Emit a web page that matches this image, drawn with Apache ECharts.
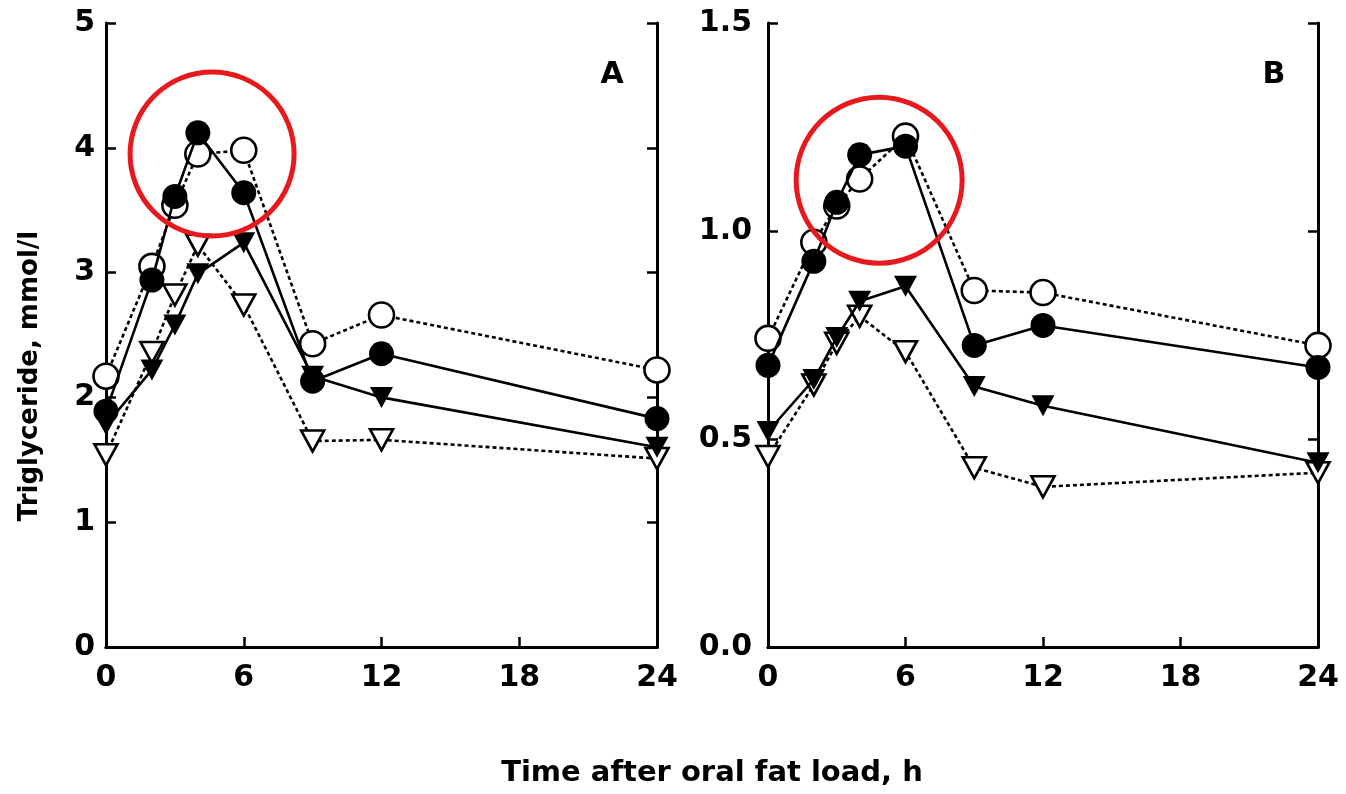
<!DOCTYPE html>
<html>
<head>
<meta charset="utf-8">
<script src="https://cdn.jsdelivr.net/npm/echarts@6/dist/echarts.min.js"></script>
<style>
html,body{margin:0;padding:0;background:#fff;}
#c{width:1346px;height:794px;}
</style>
</head>
<body>
<div id="c"></div>
<script>
// ---- data ----
var hours = [0, 2, 3, 4, 6, 9, 12, 24];
var xTicks = [0, 6, 12, 18, 24];
// Panel A (mmol/l)
var A_openCircle   = [2.17, 3.05, 3.54, 3.95, 3.98, 2.43, 2.66, 2.22];
var A_filledCircle = [1.89, 2.94, 3.61, 4.12, 3.64, 2.13, 2.35, 1.83];
var A_filledTri    = [1.78, 2.22, 2.58, 2.99, 3.24, 2.17, 2.00, 1.60];
var A_openTri      = [1.54, 2.36, 2.82, 3.22, 2.74, 1.65, 1.66, 1.51];
// Panel B
var B_openCircle   = [0.742, 0.973, 1.06, 1.125, 1.228, 0.857, 0.852, 0.725];
var B_filledCircle = [0.677, 0.927, 1.069, 1.183, 1.204, 0.725, 0.773, 0.672];
var B_filledTri    = [0.518, 0.643, 0.744, 0.831, 0.867, 0.626, 0.580, 0.443];
var B_openTri      = [0.458, 0.63, 0.73, 0.795, 0.71, 0.431, 0.385, 0.419];
var yTicksA = [0, 1, 2, 3, 4, 5];
var yTicksB = ['0.0', '0.5', '1.0', '1.5'];
// annotation circle centers (data coords)
var ringA = [4.62, 3.95];
var ringB = [4.85, 1.122];

function pairs(ys){ return hours.map(function(h,i){ return [h, ys[i]]; }); }

var FONT = 'DejaVu Sans';
var BLACK = '#000';

function mkX(gi, pos){
  var main = pos === 'bottom';
  return {
    type:'value', gridIndex:gi, position:pos, min:0, max:24, interval:6,
    axisLine:{show:true, lineStyle:{color:BLACK, width:3}},
    axisTick:{show:main, inside:true, length:10, lineStyle:{color:BLACK, width:2.5}},
    axisLabel:{show:main, color:BLACK, fontFamily:FONT, fontWeight:'bold', fontSize:30, margin:16,
      formatter:function(v){ return String(v); }},
    splitLine:{show:false}
  };
}
function mkY(gi, pos, max, interval, fmt, margin){
  var main = pos === 'left';
  return {
    type:'value', gridIndex:gi, position:pos, min:0, max:max, interval:interval,
    axisLine:{show:true, onZero:false, lineStyle:{color:BLACK, width:3}},
    axisTick:{show:true, inside:true, length:10, lineStyle:{color:BLACK, width:2.5}},
    axisLabel:{show:main, color:BLACK, fontFamily:FONT, fontWeight:'bold', fontSize:30, margin:margin || 11, formatter:fmt},
    splitLine:{show:false}
  };
}

function mkSeries(gi, ys, filled, tri, dotted, z){
  return {
    type:'line', xAxisIndex:gi*2, yAxisIndex:gi*2, data:pairs(ys),
    symbol: tri ? 'triangle' : 'circle',
    symbolRotate: tri ? 180 : 0,
    symbolSize: tri ? [23, 21] : 25,
    showAllSymbol:true,
    z:z,
    lineStyle:{color:BLACK, width:2.6, type: dotted ? [4,3] : 'solid'},
    itemStyle:{color: filled ? BLACK : '#fff', borderColor:BLACK, borderWidth: filled ? 0 : 2.6, opacity:1},
    emphasis:{disabled:true},
    animation:false
  };
}

var chart = echarts.init(document.getElementById('c'), null, {renderer:'canvas'});
var option = {
  backgroundColor:'#fff',
  animation:false,
  grid:[
    {left:106, top:23, width:551, height:624},
    {left:768, top:23, width:550, height:624}
  ],
  xAxis:[ mkX(0,'bottom'), mkX(0,'top'), mkX(1,'bottom'), mkX(1,'top') ],
  yAxis:[
    mkY(0,'left',5,1,function(v){return String(v);}, 11),
    mkY(0,'right',5,1),
    mkY(1,'left',1.5,0.5,function(v){return v.toFixed(1);}, 16),
    mkY(1,'right',1.5,0.5)
  ],
  series:[
    mkSeries(0, A_openTri, false, true, true, 2),
    mkSeries(0, A_openCircle, false, false, true, 3),
    mkSeries(0, A_filledTri, true, true, false, 4),
    mkSeries(0, A_filledCircle, true, false, false, 5),
    mkSeries(1, B_openTri, false, true, true, 2),
    mkSeries(1, B_openCircle, false, false, true, 3),
    mkSeries(1, B_filledTri, true, true, false, 4),
    mkSeries(1, B_filledCircle, true, false, false, 5)
  ],
  graphic:[
    {type:'text', x:712, y:773, style:{text:'Time after oral fat load, h', fill:BLACK,
      font:'bold 29px "DejaVu Sans"', textAlign:'center', textVerticalAlign:'middle'}},
    {type:'text', x:30, y:376, rotation:Math.PI/2, style:{text:'Triglyceride, mmol/l', fill:BLACK,
      font:'bold 26px "DejaVu Sans"', textAlign:'center', textVerticalAlign:'middle'}},
    {type:'text', x:612, y:75, style:{text:'A', fill:BLACK, font:'bold 30px "DejaVu Sans"', textAlign:'center', textVerticalAlign:'middle'}},
    {type:'text', x:1274, y:75, style:{text:'B', fill:BLACK, font:'bold 30px "DejaVu Sans"', textAlign:'center', textVerticalAlign:'middle'}}
  ]
};
chart.setOption(option);

// red annotation rings placed through the axes' scales
var pA = chart.convertToPixel({xAxisIndex:0, yAxisIndex:0}, ringA);
var pB = chart.convertToPixel({xAxisIndex:2, yAxisIndex:2}, ringB);
var g = option.graphic.slice();
g.push({type:'circle', shape:{cx:pA[0], cy:pA[1], r:82}, style:{fill:'none', stroke:'#e8191c', lineWidth:5}, z:100});
g.push({type:'circle', shape:{cx:pB[0], cy:pB[1], r:83}, style:{fill:'none', stroke:'#e8191c', lineWidth:5}, z:100});
chart.setOption({graphic:g}, {replaceMerge:['graphic']});
</script>
</body>
</html>
